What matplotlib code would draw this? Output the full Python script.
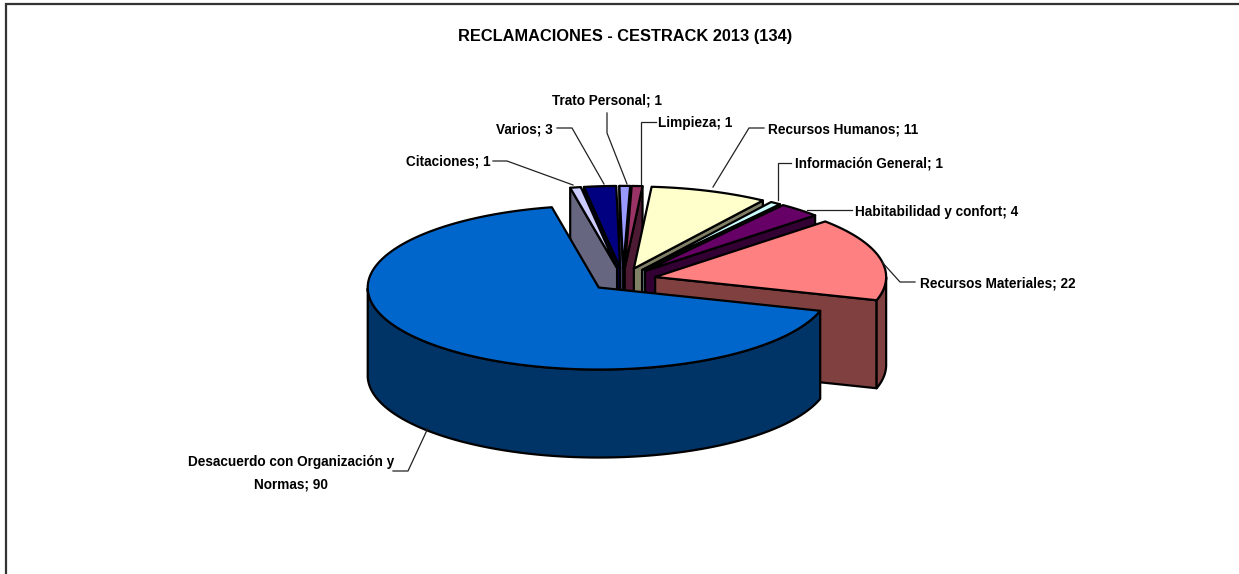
import numpy as np
import matplotlib
matplotlib.use("Agg")
import matplotlib.pyplot as plt
from matplotlib.patches import Polygon

TITLE = "RECLAMACIONES - CESTRACK 2013 (134)"
categories = ["Desacuerdo con Organización y\nNormas", "Citaciones", "Varios", "Trato Personal",
              "Limpieza", "Recursos Humanos", "Información General",
              "Habitabilidad y confort", "Recursos Materiales"]
values = [90, 1, 3, 1, 1, 11, 1, 4, 22]
top_colors = ["#0066CC", "#CCCCFF", "#000080", "#9999FF", "#993366",
              "#FFFFCC", "#CCFFFF", "#660066", "#FF8080"]
wall_colors = ["#003366", "#666680", "#000040", "#4D4D80", "#4D1A33",
               "#808066", "#668080", "#330033", "#804040"]

# pixel layout of the 3D pie
CX, CY, RX, RY, DEPTH, EXPLODE = 623, 279.6, 231, 82, 88, 33
SQUASH = RY / RX
START = -16.5

label_pos = [(291, 473, "center"), (491, 161.5, "right"), (553, 129, "right"), (662, 100.5, "right"),
             (658, 122.5, "left"), (768, 129, "left"), (795, 164, "left"),
             (855, 212, "left"), (920, 283, "left")]
leaders = [[(428, 428), (408, 471), (393, 471)],
           [(573, 185), (507, 161), (493, 161)],
           [(604, 184), (572, 128), (557, 128)],
           [(627, 184), (607, 133), (607, 113)],
           [(641, 184), (641, 122), (656, 122)],
           [(713, 187), (749, 128), (764, 128)],
           [(778, 200), (778, 163), (791, 163)],
           [(807, 210), (852, 210)],
           [(882, 262), (900, 282), (915, 282)]]

plt.rcParams["font.family"] = ["Liberation Sans", "DejaVu Sans"]
fig = plt.figure(figsize=(12.39, 5.74), dpi=100)
ax = fig.add_axes([0, 0, 1, 1])
ax.set_xlim(0, 1239)
ax.set_ylim(574, 0)
ax.axis("off")

ax.plot([6, 6, 1239], [574, 3.5, 3.5], color="#333333", lw=1.6, solid_joinstyle="miter")

# slice angle ranges, clockwise from START, in degrees
sweeps = np.array(values) / sum(values) * 360.0
hi = START - np.concatenate([[0], np.cumsum(sweeps)[:-1]])
lo = hi - sweeps


def rim(ax_, ay_, deg):
    t = np.radians(deg)
    return ax_ + RX * np.cos(t), ay_ - RY * np.sin(t)


def face(pts, fc, z):
    ax.add_patch(Polygon(pts, closed=True, facecolor=fc, edgecolor="black", lw=1.6,
                         joinstyle="round", zorder=z))


mids = (hi + lo) / 2
order = np.argsort(-np.sin(np.radians(mids)))
for rank, i in enumerate(order):
    z = 2 + rank * 0.1
    m = np.radians(mids[i])
    ax_, ay_ = CX + EXPLODE * np.cos(m), CY - EXPLODE * SQUASH * np.sin(m)
    # radial walls that face the viewer
    for a, visible in ((lo[i], np.cos(np.radians(lo[i])) > 0), (hi[i], np.cos(np.radians(hi[i])) < 0)):
        if visible:
            px, py = rim(ax_, ay_, a)
            face([(ax_, ay_), (px, py), (px, py + DEPTH), (ax_, ay_ + DEPTH)], wall_colors[i], z)
    # outer wall: the part of the rim on the viewer's side
    a = np.linspace(lo[i], hi[i], 240)
    vis = a[np.sin(np.radians(a)) <= 0]
    if len(vis) > 1:
        px, py = rim(ax_, ay_, vis)
        face(np.r_[np.c_[px, py], np.c_[px, py + DEPTH][::-1]], wall_colors[i], z + 0.01)
    # top face
    px, py = rim(ax_, ay_, a)
    face(np.r_[[(ax_, ay_)], np.c_[px, py]], top_colors[i], z + 0.02)

for cat, val, (x, y, ha), pts in zip(categories, values, label_pos, leaders):
    ax.text(x, y, f"{cat}; {val}", ha=ha, va="center", fontsize=9.8, fontweight="bold",
            multialignment="center", linespacing=1.8, color="black", zorder=6)
    xs, ys = zip(*pts)
    ax.plot(xs, ys, color="#222222", lw=0.9, zorder=5, solid_joinstyle="miter")

ax.text(625, 37, TITLE, ha="center", va="center", fontsize=11.8, fontweight="bold", color="black")
fig.savefig("out.png", dpi=100)
